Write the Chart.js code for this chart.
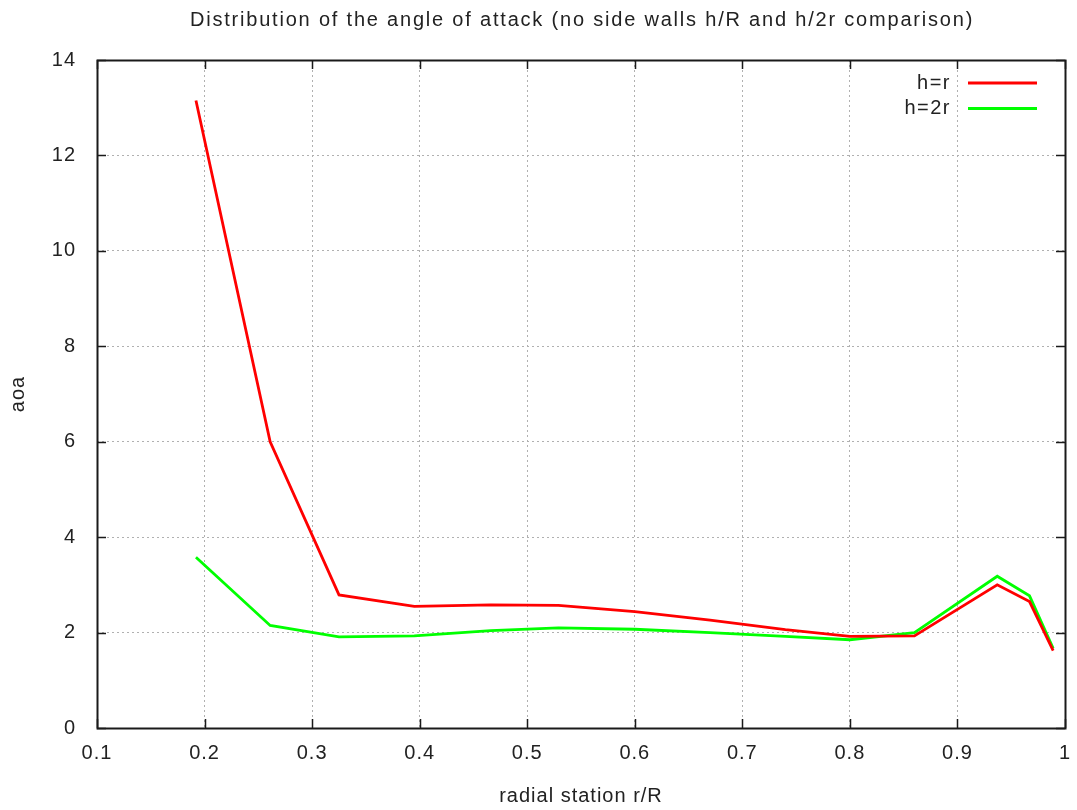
<!DOCTYPE html>
<html>
<head>
<meta charset="utf-8">
<script src="https://cdn.jsdelivr.net/npm/chart.js@4.4.1/dist/chart.umd.min.js"></script>
<style>
  html, body { margin: 0; padding: 0; background: #ffffff; }
  #wrap { width: 1077px; height: 810px; }
</style>
</head>
<body>
<div id="wrap"><canvas id="c" width="1077" height="810"></canvas></div>
<script>
// Radial stations r/R where the angle of attack was evaluated
const radialStation = [0.192, 0.261, 0.325, 0.395, 0.466, 0.529, 0.600, 0.670, 0.740, 0.800, 0.860, 0.937, 0.967, 0.989];
// Angle of attack, h = r
const aoaHr  = [13.15, 6.00, 2.79, 2.55, 2.58, 2.57, 2.44, 2.26, 2.06, 1.92, 1.93, 3.00, 2.65, 1.62];
// Angle of attack, h = 2r
const aoaH2r = [3.58, 2.15, 1.91, 1.93, 2.04, 2.10, 2.07, 2.00, 1.92, 1.85, 2.00, 3.18, 2.77, 1.67];

const seriesNames  = ['h=r', 'h=2r'];
const seriesColors = ['#ff0000', '#00ff00'];

const xTickValues = [0.1, 0.2, 0.3, 0.4, 0.5, 0.6, 0.7, 0.8, 0.9, 1.0];
const xTickLabels = ['0.1', '0.2', '0.3', '0.4', '0.5', '0.6', '0.7', '0.8', '0.9', '1'];
const yTickValues = [0, 2, 4, 6, 8, 10, 12, 14];
const yTickLabels = ['0', '2', '4', '6', '8', '10', '12', '14'];

const chartTitle = 'Distribution of the angle of attack (no side walls h/R and h/2r comparison)';
const xTitle = 'radial station r/R';
const yTitle = 'aoa';

const FONT = "'Liberation Sans', Arial, sans-serif";
const TXT = '#222222';
const SIZE = 20;

function toPoints(xs, ys) {
  return xs.map((x, i) => ({ x: x, y: ys[i] }));
}

// Slightly tracked-out lettering for all canvas text
const spacingPlugin = {
  id: 'spacing',
  beforeLayout(chart) { chart.ctx.letterSpacing = '1px'; },
  beforeDraw(chart) { chart.ctx.letterSpacing = '1px'; }
};

// Frame with inward tick marks on all four sides
const framePlugin = {
  id: 'frame',
  afterDatasetsDraw(chart) {
    const { ctx, chartArea: a, scales: { x, y } } = chart;
    ctx.save();
    ctx.strokeStyle = '#1a1a1a';
    ctx.lineWidth = 1.5;
    const tl = 9;
    ctx.beginPath();
    xTickValues.forEach(v => {
      const px = Math.round(x.getPixelForValue(v)) + 0.5;
      ctx.moveTo(px, a.bottom); ctx.lineTo(px, a.bottom - tl);
      ctx.moveTo(px, a.top); ctx.lineTo(px, a.top + tl);
    });
    yTickValues.forEach(v => {
      const py = Math.round(y.getPixelForValue(v)) + 0.5;
      ctx.moveTo(a.left, py); ctx.lineTo(a.left + tl, py);
      ctx.moveTo(a.right, py); ctx.lineTo(a.right - tl, py);
    });
    ctx.stroke();
    ctx.lineWidth = 2;
    ctx.strokeRect(Math.round(a.left) + 0.5, Math.round(a.top) + 0.5,
                   Math.round(a.right - a.left), Math.round(a.bottom - a.top));
    ctx.restore();
  }
};

// Heading above the plot, and the key in the upper right
const textPlugin = {
  id: 'texts',
  afterDraw(chart) {
    const { ctx, chartArea: a } = chart;
    ctx.save();
    ctx.fillStyle = TXT;
    ctx.textBaseline = 'middle';
    ctx.textAlign = 'center';
    ctx.letterSpacing = '1.8px';
    ctx.font = '20px ' + FONT;
    ctx.fillText(chartTitle, (a.left + a.right) / 2 + 1, 20);

    ctx.letterSpacing = '1.5px';
    ctx.font = SIZE + 'px ' + FONT;
    ctx.textAlign = 'right';
    chart.data.datasets.forEach((ds, i) => {
      const yy = a.top + 23 + i * 25.5;
      ctx.fillStyle = TXT;
      ctx.fillText(ds.label, a.right - 114, yy);
      ctx.strokeStyle = ds.borderColor;
      ctx.lineWidth = ds.borderWidth;
      ctx.beginPath();
      ctx.moveTo(a.right - 97, yy);
      ctx.lineTo(a.right - 28, yy);
      ctx.stroke();
    });
    ctx.restore();
  }
};

new Chart(document.getElementById('c'), {
  type: 'line',
  data: {
    datasets: [
      { label: seriesNames[0], data: toPoints(radialStation, aoaHr),
        borderColor: seriesColors[0], borderWidth: 2.8, pointRadius: 0, fill: false, tension: 0 },
      { label: seriesNames[1], data: toPoints(radialStation, aoaH2r),
        borderColor: seriesColors[1], borderWidth: 2.8, pointRadius: 0, fill: false, tension: 0 }
    ]
  },
  options: {
    responsive: false,
    animation: false,
    devicePixelRatio: 1,
    layout: { padding: { left: 0, right: 12, top: 60, bottom: 0 } },
    plugins: {
      legend: { display: false },
      tooltip: { enabled: false },
      title: { display: false }
    },
    scales: {
      x: {
        type: 'linear',
        min: 0.1, max: 1.0,
        afterBuildTicks(s) { s.ticks = xTickValues.map(v => ({ value: v })); },
        afterFit(s) { s.height = 82; s.paddingLeft = 0; s.paddingRight = 0; },
        ticks: {
          padding: 13,
          color: TXT,
          font: { family: FONT, size: SIZE, lineHeight: 1.2 },
          maxRotation: 0,
          autoSkip: false,
          callback: (v, i) => xTickLabels[i]
        },
        grid: { color: '#b0b0b0', lineWidth: 1, drawTicks: false },
        border: { display: false, dash: [2, 3] },
        title: {
          display: true, text: xTitle, color: TXT,
          font: { family: FONT, size: SIZE, lineHeight: 1.2 },
          padding: { top: 0, bottom: 2 }
        }
      },
      y: {
        min: 0, max: 14,
        afterBuildTicks(s) { s.ticks = yTickValues.map(v => ({ value: v })); },
        afterFit(s) { s.width = 97; s.paddingTop = 0; s.paddingBottom = 0; },
        ticks: {
          padding: 21,
          color: TXT,
          font: { family: FONT, size: SIZE, lineHeight: 1.2 },
          autoSkip: false,
          callback: (v, i) => yTickLabels[i]
        },
        grid: { color: '#b0b0b0', lineWidth: 1, drawTicks: false },
        border: { display: false, dash: [2, 3] },
        title: {
          display: true, text: yTitle, color: TXT,
          font: { family: FONT, size: SIZE, lineHeight: 1.2 },
          padding: { top: 6, bottom: 0 }
        }
      }
    }
  },
  plugins: [spacingPlugin, framePlugin, textPlugin]
});
</script>
</body>
</html>
